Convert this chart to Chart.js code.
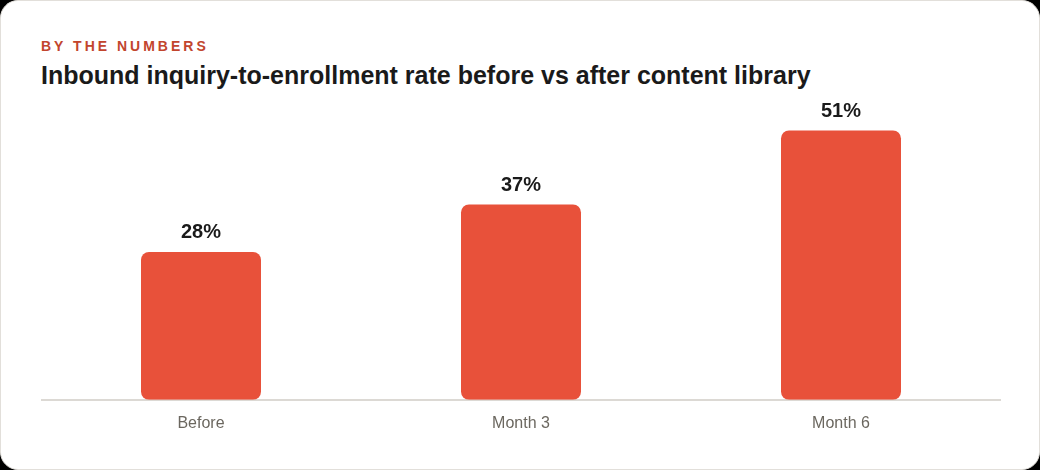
<!DOCTYPE html>
<html>
<head>
<meta charset="utf-8">
<script src="https://cdn.jsdelivr.net/npm/chart.js@4.4.1/dist/chart.umd.min.js"></script>
<style>
  html, body { margin: 0; padding: 0; background: #000; }
  .card {
    position: absolute; left: 0; top: 0;
    width: 1038px; height: 468px;
    background: #fff;
    border: 1px solid #e2dfda;
    border-radius: 18px;
    font-family: "Liberation Sans", Arial, sans-serif;
  }
  .kicker {
    position: absolute; left: 40px; top: 37px;
    font-size: 14px; font-weight: bold; letter-spacing: 3px;
    color: #c2452d;
  }
  .title {
    position: absolute; left: 40px; top: 60px;
    font-size: 25px; font-weight: bold; color: #1a1a1a;
  }
  .chart-box {
    position: absolute; left: 40px; top: 82px;
    width: 960px; height: 364px;
  }
</style>
</head>
<body>
<div class="card">
  <div class="kicker">BY THE NUMBERS</div>
  <div class="title">Inbound inquiry-to-enrollment rate before vs after content library</div>
  <div class="chart-box"><canvas id="chart"></canvas></div>
</div>
<script>
const categories = ['Before', 'Month 3', 'Month 6'];
const rates = [28, 37, 51];

// draws "28%" etc. above each bar
const valueLabels = {
  id: 'valueLabels',
  afterDatasetsDraw(chart) {
    const ctx = chart.ctx;
    const meta = chart.getDatasetMeta(0);
    ctx.save();
    ctx.font = 'bold 20px "Liberation Sans", Arial, sans-serif';
    ctx.fillStyle = '#1a1a1a';
    ctx.textAlign = 'center';
    ctx.textBaseline = 'bottom';
    meta.data.forEach((bar, i) => {
      ctx.fillText(rates[i] + '%', bar.x, bar.y - 9);
    });
    ctx.restore();
  }
};

new Chart(document.getElementById('chart'), {
  type: 'bar',
  data: {
    labels: categories,
    datasets: [{
      data: rates,
      backgroundColor: '#e8513a',
      borderRadius: 8,
      borderSkipped: false,
      barPercentage: 0.375,
      categoryPercentage: 1
    }]
  },
  options: {
    responsive: true,
    maintainAspectRatio: false,
    animation: false,
    layout: { padding: 0 },
    plugins: {
      legend: { display: false },
      tooltip: { enabled: false }
    },
    scales: {
      x: {
        grid: { display: false, drawTicks: false },
        border: { display: true, color: '#dcd9d4', width: 2 },
        ticks: {
          color: '#6b675f',
          padding: 14,
          font: { family: '"Liberation Sans", Arial, sans-serif', size: 16 }
        }
      },
      y: {
        display: false,
        min: 0,
        max: 60
      }
    }
  },
  plugins: [valueLabels]
});
</script>
</body>
</html>
